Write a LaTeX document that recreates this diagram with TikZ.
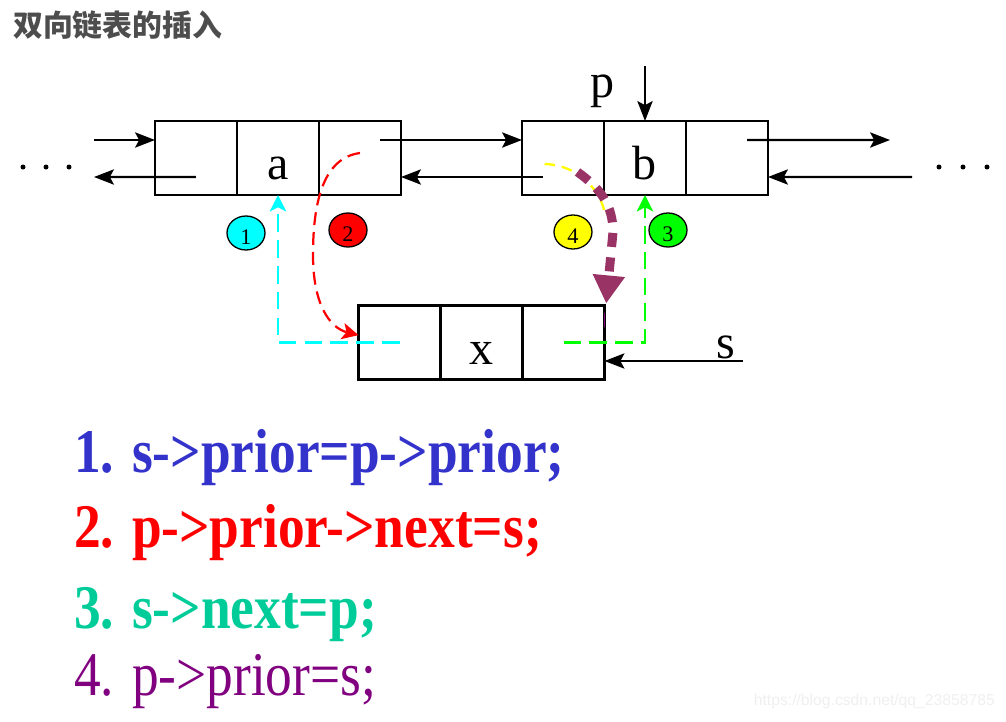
\documentclass[tikz,border=0pt]{standalone}
\usepackage{fontspec}
\usepackage{xcolor}
\usepackage{tikz}
\usetikzlibrary{arrows.meta,shapes.geometric,positioning,calc}
\setmainfont{Liberation Serif}
\newfontfamily\cjkfont{Noto Sans CJK SC}
\newfontfamily\codefont{Liberation Serif}[FakeStretch=0.86]
\newfontfamily\markfont{Liberation Sans}
\definecolor{cTitle}{HTML}{4D4D4D}
\definecolor{cCyan}{HTML}{00FFFF}
\definecolor{cRed}{HTML}{FF0000}
\definecolor{cGreen}{HTML}{00FF00}
\definecolor{cYellow}{HTML}{FFFF00}
\definecolor{cPlum}{HTML}{993366}
\definecolor{cTick}{HTML}{800080}
\definecolor{cCodeA}{HTML}{3333CC}
\definecolor{cCodeB}{HTML}{FF0000}
\definecolor{cCodeC}{HTML}{00CC99}
\definecolor{cCodeD}{HTML}{800080}
\definecolor{cMark}{HTML}{EFEFEF}
\tikzset{
  dlcell/.style={draw,line width=2pt,minimum width=2.46cm,minimum height=2.22cm,
      inner sep=0pt,outer sep=0pt,font=\fontsize{41}{41}\selectfont,
      text height=1.3cm,text depth=0pt},
  dlptr/.style={-{Stealth[length=17pt,width=13pt,inset=3.5pt]},line width=1.8pt},
  dllab/.style={font=\fontsize{41}{41}\selectfont,inner sep=0pt,anchor=base},
  dlbadge/.style={ellipse,draw,line width=1.1pt,minimum width=1.14cm,
      minimum height=1.02cm,inner sep=0pt,font=\fontsize{19}{19}\selectfont,
      text height=0.7cm,text depth=0pt},
  dldash/.style={line width=2.2pt,dash pattern=on 15pt off 7pt,
      -{Stealth[length=14pt,width=14pt,inset=3.5pt]}},
  dlone/.style={dldash,draw=cCyan},
  dltwo/.style={dldash,draw=cRed,line width=1.9pt,dash pattern=on 11pt off 6pt},
  dlthree/.style={dldash,draw=cGreen},
  dlfour/.style={draw=cYellow,line width=2pt,dash pattern=on 9pt off 6pt},
  dlmove/.style={draw=cPlum,line width=7.7pt,dash pattern=on 12pt off 9pt,
      -{Triangle[length=24pt,width=26pt]}},
  dlcode/.style={anchor=base west,inner sep=0pt,font=\codefont\fontsize{53}{60}\selectfont},
}
\newcommand{\dlnode}[4]{%
  \node[dlcell] (#1) at (#2,#3) {#4};
  \node[dlcell,left=0pt of #1] (#1-l) {};
  \node[dlcell,right=0pt of #1] (#1-r) {};}

\begin{document}
\begin{tikzpicture}[x=0.03cm,y=-0.03cm]
  \useasboundingbox (0,0) rectangle (1006,721);
  \node[anchor=west,inner sep=0pt,text=cTitle,
    font=\cjkfont\bfseries\fontsize{25.5}{28}\selectfont] (title) at (13,25) {双向链表的插入};

  \dlnode{a}{278}{158}{a}
  \dlnode{b}{645}{158}{b}
  \dlnode{x}{481.5}{342.5}{x}

  % rest of the list
  \foreach \dx in {23,46,69,939,963,987} \fill (\dx,167) circle (2.5);
  \coordinate (a-in) at (94,140);
  \coordinate (a-out) at (94,177);
  \coordinate (b-out) at (890,140);
  \coordinate (b-in) at (912,177);
  \draw[dlptr] (a-in) -- (a-l.west |- a-in);
  \draw[dlptr] ([yshift=-0.57cm]a-l.center) -- (a-out);
  \draw[dlptr] ([xshift=0.6cm,yshift=0.54cm]a-r.center) -- ([yshift=0.54cm]b-l.west);
  \draw[dlptr] ([xshift=-0.6cm,yshift=-0.57cm]b-l.center) -- ([yshift=-0.57cm]a-r.east);
  \draw[dlptr] ([xshift=0.6cm,yshift=0.54cm]b-r.center) -- (b-out);
  \draw[dlptr] (b-in) -- ([yshift=-0.57cm]b-r.east);

  % pointers p and s
  \node[dllab] (p) at (603,97) {p};
  \coordinate (p-tail) at (645,66);
  \draw[dlptr] (p-tail) -- (b.north);
  \node[dllab] (s) at (726,358) {s};
  \coordinate (s-tail) at (743,361);
  \draw[dlptr] (s-tail) -- (x-r.east |- s-tail);

  % the four steps
  \node[dlbadge,fill=cCyan] (n1) at (246,233) {1};
  \node[dlbadge,fill=cRed] (n2) at (348,230) {2};
  \node[dlbadge,fill=cGreen] (n3) at (668,230) {3};
  \node[dlbadge,fill=cYellow] (n4) at (573,232) {4};

  \draw[dlone] (x-l.center) -| (a.south);
  \draw[dltwo] ([yshift=0.15cm]a-r.center) .. controls (322,158) and (313,205) .. (313,255)
    .. controls (313,305) and (330,328) .. ([yshift=0.22cm]x-l.west);
  \draw[dlthree] (x-r.center) -| (b.south);
  \coordinate (old-end) at (604,210);
  \draw[dlfour] ([xshift=-0.555cm,yshift=-0.18cm]b-l.center) .. controls (580,165) and (600,192) .. (old-end);
  \draw[dlmove] ([xshift=0.435cm,yshift=-0.42cm]b-l.center) .. controls (600,188) and (613,205) .. (613,232)
    -- ([xshift=0.05cm,yshift=0.06cm]x-r.north east);
  \draw[cTick,line width=1.6pt] ([yshift=-0.22cm]x-r.north east) -- ([yshift=-0.65cm]x-r.north east);

  % the code
  \node[dlcode,text=cCodeA] (code1) at (74,472) {\bfseries 1. s->prior=p->prior;};
  \node[dlcode,text=cCodeB] (code2) at (74,547) {\bfseries 2. p->prior->next=s;};
  \node[dlcode,text=cCodeC] (code3) at (74,628) {\bfseries 3. s->next=p;};
  \node[dlcode,text=cCodeD] (code4) at (74,695) {4. p->prior=s;};

  \node[anchor=base east,inner sep=0pt,text=cMark,
    font=\markfont\fontsize{13.4}{14}\selectfont] (mark) at (995,705) {https://blog.csdn.net/qq\_23858785};
\end{tikzpicture}
\end{document}
